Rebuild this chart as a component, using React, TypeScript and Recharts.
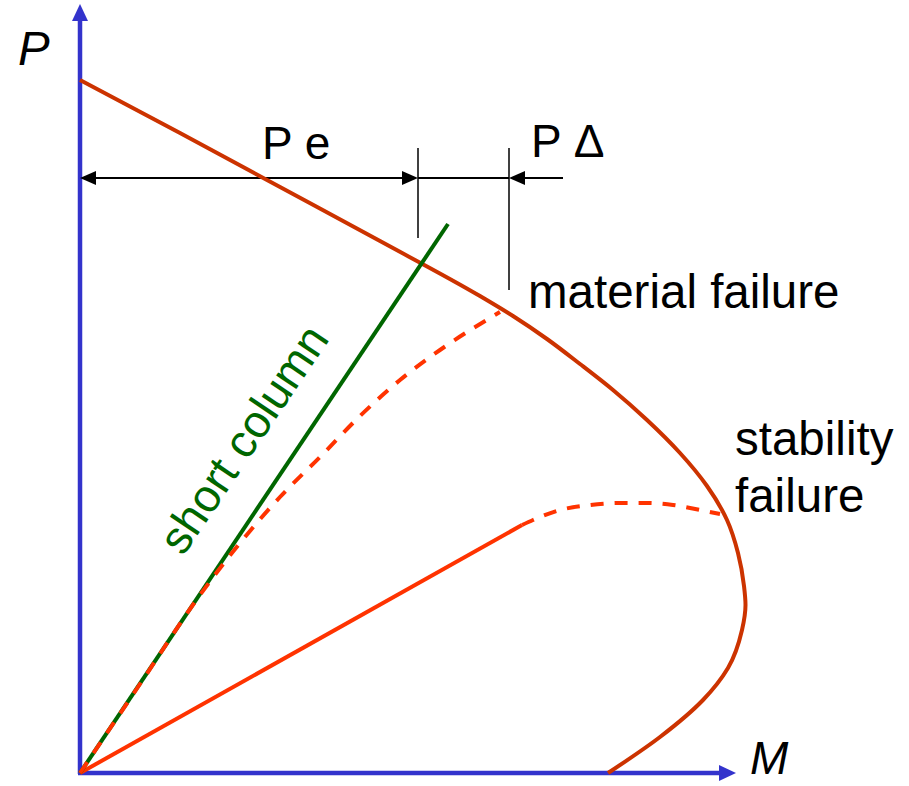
import React from "react";
import {
  LineChart,
  Line,
  XAxis,
  YAxis,
  ReferenceLine,
  ReferenceDot,
} from "recharts";

// interaction diagram: P (axial load) vs M (moment), arbitrary units
const strengthCurve = [
  { m: 0, p: 693 },
  { m: 100, p: 640 },
  { m: 200, p: 586 },
  { m: 300, p: 532 },
  { m: 400, p: 477 },
  { m: 433, p: 457 },
  { m: 467, p: 434 },
  { m: 500, p: 409 },
  { m: 533, p: 383 },
  { m: 567, p: 353 },
  { m: 600, p: 320 },
  { m: 627, p: 287 },
  { m: 647, p: 253 },
  { m: 658, p: 220 },
  { m: 664, p: 187 },
  { m: 665.5, p: 168 },
  { m: 662, p: 143 },
  { m: 648, p: 105 },
  { m: 623, p: 73 },
  { m: 580, p: 36 },
  { m: 528, p: 0 },
];

const shortColumn = [
  { m: 0, p: 0 },
  { m: 368, p: 549 },
];

const slenderPath = [
  { m: 0, p: 0 },
  { m: 60, p: 89 },
  { m: 120, p: 178 },
  { m: 160, p: 230 },
  { m: 200, p: 276 },
  { m: 240, p: 316 },
  { m: 280, p: 357 },
  { m: 320, p: 393 },
  { m: 360, p: 423 },
  { m: 420, p: 461 },
];

const verySlenderLine = [
  { m: 0, p: 0 },
  { m: 442, p: 248 },
];

const verySlenderCurve = [
  { m: 442, p: 248 },
  { m: 453, p: 253 },
  { m: 480, p: 263 },
  { m: 510, p: 268 },
  { m: 540, p: 270 },
  { m: 567, p: 270 },
  { m: 593, p: 268 },
  { m: 620, p: 263 },
  { m: 640, p: 259 },
];

// dimension line levels
const dimP = 595;
const peEnd = 338;
const pDeltaEnd = 429;

const BLUE = "#3333cc";
const DARK_RED = "#cc3300";
const ORANGE = "#ff3300";
const GREEN = "#006600";
const FONT = "'Liberation Sans', Arial, sans-serif";

function arrow(color: string, width: number, atStart: boolean, atEnd: boolean, len = 16, half = 7) {
  return (props: any) => {
    const { x1, y1, x2, y2 } = props;
    const dx = x2 - x1;
    const dy = y2 - y1;
    const d = Math.hypot(dx, dy) || 1;
    const ux = dx / d;
    const uy = dy / d;
    const head = (tx: number, ty: number, sx: number, sy: number) => {
      const bx = tx - sx * len;
      const by = ty - sy * len;
      return `${tx},${ty} ${bx - sy * half},${by + sx * half} ${bx + sy * half},${by - sx * half}`;
    };
    const ax = atStart ? x1 + ux * (len - 2) : x1;
    const ay = atStart ? y1 + uy * (len - 2) : y1;
    const bx = atEnd ? x2 - ux * (len - 2) : x2;
    const by = atEnd ? y2 - uy * (len - 2) : y2;
    return (
      <g>
        <line x1={ax} y1={ay} x2={bx} y2={by} stroke={color} strokeWidth={width} />
        {atStart && <polygon points={head(x1, y1, -ux, -uy)} fill={color} />}
        {atEnd && <polygon points={head(x2, y2, ux, uy)} fill={color} />}
      </g>
    );
  };
}

function label(text: string, opts: { fill?: string; italic?: boolean; rotate?: number; size?: number } = {}) {
  return (props: any) => {
    const { cx, cy } = props;
    return (
      <text
        x={cx}
        y={cy}
        fill={opts.fill || "#000"}
        fontSize={opts.size || 47.5}
        fontFamily={FONT}
        fontStyle={opts.italic ? "italic" : "normal"}
        textAnchor="start"
        transform={opts.rotate ? `rotate(${opts.rotate} ${cx} ${cy})` : undefined}
      >
        {text}
      </text>
    );
  };
}

export default function App() {
  return (
    <div style={{ position: "absolute", left: 0, top: 0, background: "#fff" }}>
      <LineChart
        width={909}
        height={786}
        margin={{ top: 0, right: 0, bottom: 0, left: 0 }}
      >
        <XAxis dataKey="m" type="number" domain={[-80, 829]} allowDataOverflow hide />
        <YAxis type="number" domain={[-13, 773]} allowDataOverflow hide />

        {/* axes */}
        <ReferenceLine
          segment={[{ x: 0, y: -1 }, { x: 0, y: 769 }]}
          shape={arrow(BLUE, 4.5, false, true, 17, 8)}
        />
        <ReferenceLine
          segment={[{ x: -2, y: 0 }, { x: 656, y: 0 }]}
          shape={arrow(BLUE, 4.5, false, true, 17, 8)}
        />

        {/* dimension lines */}
        <ReferenceLine
          segment={[{ x: 0, y: dimP }, { x: peEnd, y: dimP }]}
          shape={arrow("#000", 2, true, true, 16, 7)}
        />
        <ReferenceLine
          segment={[{ x: peEnd, y: dimP }, { x: pDeltaEnd, y: dimP }]}
          shape={arrow("#000", 2, false, false)}
        />
        <ReferenceLine
          segment={[{ x: 483, y: dimP }, { x: pDeltaEnd, y: dimP }]}
          shape={arrow("#000", 2, false, true, 16, 7)}
        />
        <ReferenceLine
          segment={[{ x: peEnd, y: 625 }, { x: peEnd, y: 535 }]}
          shape={arrow("#000", 1.5, false, false)}
        />
        <ReferenceLine
          segment={[{ x: pDeltaEnd, y: 625 }, { x: pDeltaEnd, y: 483 }]}
          shape={arrow("#000", 1.5, false, false)}
        />

        <Line
          data={strengthCurve}
          dataKey="p"
          type="monotoneY"
          stroke={DARK_RED}
          strokeWidth={4}
          dot={false}
          activeDot={false}
          isAnimationActive={false}
        />
        <Line
          data={verySlenderLine}
          dataKey="p"
          type="linear"
          stroke={ORANGE}
          strokeWidth={4}
          dot={false}
          activeDot={false}
          isAnimationActive={false}
        />
        <Line
          data={verySlenderCurve}
          dataKey="p"
          type="monotone"
          stroke={ORANGE}
          strokeWidth={4}
          strokeDasharray="13 11"
          dot={false}
          activeDot={false}
          isAnimationActive={false}
        />
        <Line
          data={shortColumn}
          dataKey="p"
          type="linear"
          stroke={GREEN}
          strokeWidth={4}
          dot={false}
          activeDot={false}
          isAnimationActive={false}
        />
        <Line
          data={slenderPath}
          dataKey="p"
          type="monotone"
          stroke={ORANGE}
          strokeWidth={4}
          strokeDasharray="13 11"
          dot={false}
          activeDot={false}
          isAnimationActive={false}
        />

        {/* text */}
        <ReferenceDot x={-62} y={708} r={0} shape={label("P", { italic: true })} />
        <ReferenceDot x={670} y={-1} r={0} shape={label("M", { italic: true, size: 46 })} />
        <ReferenceDot x={182} y={614} r={0} shape={label("P e", { size: 46 })} />
        <ReferenceDot x={451} y={616} r={0} shape={label("P Δ", { size: 46 })} />
        <ReferenceDot x={448} y={465} r={0} shape={label("material failure")} />
        <ReferenceDot x={655} y={318} r={0} shape={label("stability")} />
        <ReferenceDot x={655} y={261} r={0} shape={label("failure")} />
        <ReferenceDot
          x={103}
          y={216}
          r={0}
          shape={label("short column", { fill: GREEN, rotate: -56, size: 46 })}
        />
      </LineChart>
    </div>
  );
}
